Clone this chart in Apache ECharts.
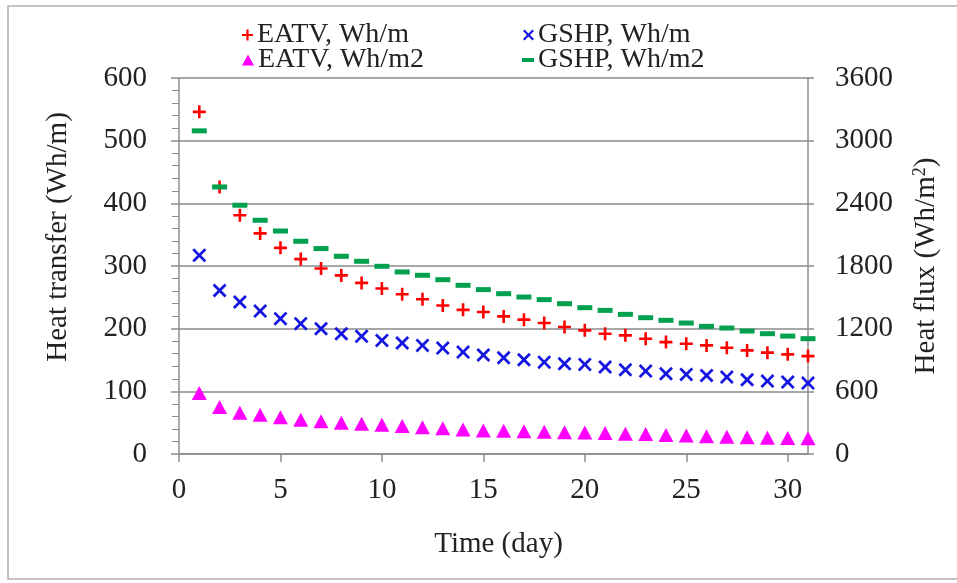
<!DOCTYPE html>
<html>
<head>
<meta charset="utf-8">
<script src="https://cdn.jsdelivr.net/npm/echarts@6/dist/echarts.min.js"></script>
<style>
html,body{margin:0;padding:0;background:#fff;}
#chart{width:957px;height:583px;}
</style>
</head>
<body>
<div id="chart"></div>
<script>
const days = [1,2,3,4,5,6,7,8,9,10,11,12,13,14,15,16,17,18,19,20,21,22,23,24,25,26,27,28,29,30,31];
const eatvWhm = [546,426,381,352,329,311,296,285,273,264,255,247,237,230,226.5,219.6,214.4,209,202.6,197.3,192,189.3,184,178.6,176,173.3,169.6,165.3,161.7,159,156.2];
const gshpWhm = [317,261,242.5,228,216,208,200,192,187.7,181.3,177,173.3,169,162.6,158,153.7,150.5,146.6,144.1,143,138.7,134.5,132.3,128.1,127,125.4,122.7,118.5,116.3,114.7,113.1];
const eatvWhm2 = [583,449,395,376,353,328,314,299,289,280,267,257,247,235,225,222,218,214,209,206,200,195,192,182,178,170,164,160,156,154,151];
const gshpWhm2 = [3094,2557,2382,2238,2135,2037,1967,1893,1845,1797,1743,1711,1669,1615,1574,1535,1503,1478,1439,1401,1375,1337,1305,1280,1254,1222,1206,1177,1152,1129,1104];
const xTicks = [0,5,10,15,20,25,30];
const names = ['EATV, Wh/m','GSHP, Wh/m','EATV, Wh/m2','GSHP, Wh/m2'];

const FONT = '"Liberation Serif","Times New Roman",serif';
const PLUS = 'path://M4,0H6V4H10V6H6V10H4V6H0V4H4Z';
const CROSS = 'path://M0,1.4L1.4,0L5,3.6L8.6,0L10,1.4L6.4,5L10,8.6L8.6,10L5,6.4L1.4,10L0,8.6L3.6,5Z';
const axisGray = '#8c8c8c';

function pairs(vals){ return days.map((d,i)=>[d, vals[i]]); }
function legendItem(name, left, top, w, h){
  return {data:[name], left:left, top:top, padding:0, itemWidth:w, itemHeight:h, itemGap:0,
    textStyle:{fontFamily:FONT, fontSize:28, color:'#222', padding:[0,0,0,-1]}};
}

const chart = echarts.init(document.getElementById('chart'), null, {renderer:'canvas'});
chart.setOption({
  backgroundColor:'#fff',
  animation:false,
  graphic:[{type:'rect', shape:{x:8,y:6,width:960,height:573}, style:{fill:'none', stroke:'#b0b0b0', lineWidth:1.5}, silent:true}],
  legend:[
    legendItem(names[0], 242, 21, 11, 11),
    legendItem(names[1], 523, 21, 11, 11),
    legendItem(names[2], 242, 46, 12, 11),
    legendItem(names[3], 522, 46, 12, 4)
  ],
  grid:{left:179, top:78, width:629, height:376},
  xAxis:{
    type:'value', min:0, max:31, interval:5,
    name:'Time (day)', nameLocation:'middle', nameGap:76,
    nameTextStyle:{fontFamily:FONT, fontSize:29, color:'#222', padding:[0,0,0,10]},
    axisLine:{show:true, onZero:false, lineStyle:{color:axisGray, width:1.5}},
    axisTick:{show:true, inside:false, length:8, customValues:xTicks, lineStyle:{color:axisGray, width:1.5}},
    axisLabel:{customValues:xTicks, margin:22, fontFamily:FONT, fontSize:29, color:'#222'},
    splitLine:{show:false}
  },
  yAxis:[{
    type:'value', min:0, max:600, interval:100, position:'left',
    name:'Heat transfer (Wh/m)', nameLocation:'middle', nameGap:106, nameRotate:90,
    nameTextStyle:{fontFamily:FONT, fontSize:29, color:'#222', padding:[0,0,0,58]},
    axisLine:{show:true, lineStyle:{color:axisGray, width:1.5}},
    axisTick:{show:true, inside:false, length:8, lineStyle:{color:axisGray, width:1.5}},
    minorTick:{show:true, splitNumber:5, length:7, lineStyle:{color:axisGray, width:1}},
    axisLabel:{margin:32, fontFamily:FONT, fontSize:29, color:'#222'},
    splitLine:{show:true, lineStyle:{color:'#8a8a8a', width:1.5}}
  },{
    type:'value', min:0, max:3600, interval:600, position:'right',
    name:'Heat flux (Wh/m{sup|2})', nameLocation:'middle', nameGap:103, nameRotate:90,
    nameTextStyle:{fontFamily:FONT, fontSize:29, color:'#222', rich:{sup:{fontFamily:FONT, fontSize:18, color:'#222', verticalAlign:'top', padding:[0,0,12,0]}}},
    axisLine:{show:true, lineStyle:{color:axisGray, width:1.5}},
    axisTick:{show:true, inside:false, length:6, lineStyle:{color:axisGray, width:1.5}},
    axisLabel:{margin:27, fontFamily:FONT, fontSize:29, color:'#222', formatter:function(v){return String(v);}},
    splitLine:{show:false}
  }],
  series:[
    {name:names[0], type:'scatter', yAxisIndex:0, data:pairs(eatvWhm), symbol:PLUS, symbolSize:13, itemStyle:{color:'#ff0000', opacity:1}},
    {name:names[1], type:'scatter', yAxisIndex:0, data:pairs(gshpWhm), symbol:CROSS, symbolSize:14, itemStyle:{color:'#1515e0', opacity:1}},
    {name:names[2], type:'scatter', yAxisIndex:1, data:pairs(eatvWhm2), symbol:'triangle', symbolSize:[15,14], itemStyle:{color:'#ff00ff', opacity:1}},
    {name:names[3], type:'scatter', yAxisIndex:1, data:pairs(gshpWhm2), symbol:'rect', symbolSize:[15,5], itemStyle:{color:'#00a04f', opacity:1}}
  ]
});
</script>
</body>
</html>
